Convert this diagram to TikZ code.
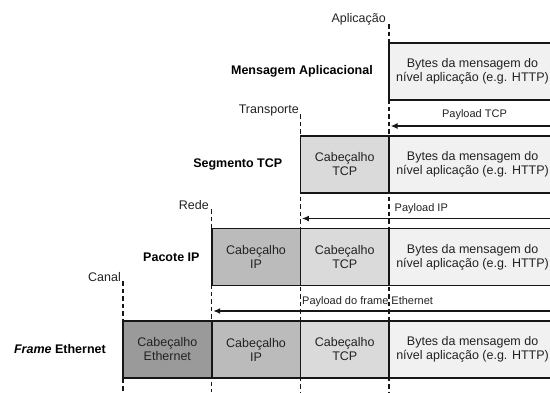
\documentclass[tikz,border=0pt]{standalone}
\usepackage{fontspec}
\setmainfont{Liberation Sans}
\usetikzlibrary{arrows.meta, positioning, calc}
\definecolor{pkEth}{HTML}{9A9A9A}
\definecolor{pkIp}{HTML}{BBBBBB}
\definecolor{pkTcp}{HTML}{DADADA}
\definecolor{pkApp}{HTML}{F1F1F1}
\definecolor{pkText}{HTML}{222222}
\definecolor{pkLine}{HTML}{161616}

\begin{document}
\begin{tikzpicture}[x=1pt, y=-1pt, node distance=0pt,
  every node/.style={font=\fontsize{12.5}{14}\selectfont, text=pkText},
  field/.style={draw=pkLine, line width=1.8pt, outer sep=0pt, inner sep=0pt,
                minimum height=57pt, align=center},
  hdr/.style={field, minimum width=88.7pt},
  body/.style={field, fill=pkApp, minimum width=167pt},
  layer/.style={anchor=east, inner sep=0pt},
  tag/.style={anchor=east, inner sep=0pt, text=black,
              font=\bfseries\fontsize{12.5}{14}\selectfont},
  guide/.style={pkLine, line width=1.2pt, dash pattern=on 4.5pt off 3pt},
  payload/.style={inner sep=0pt, font=\fontsize{11}{12}\selectfont},
  carry/.style={-{Latex[length=7pt, width=6pt]}, pkLine, line width=1.5pt}]
        \useasboundingbox (0,0) rectangle (550,392);
        \clip (0,0) rectangle (550,392);
        % layer names and their guides
        \node[layer] (lApp) at (386,19) {Aplicação};
        \node[layer] (lTra) at (299,110) {Transporte};
        \node[layer] (lRed) at (209,205) {Rede};
        \node[layer] (lCan) at (121,277) {Canal};
        \coordinate (gAppT) at (389,24);  \coordinate (gAppB) at (389,392);
        \coordinate (gTraT) at (300.4,114); \coordinate (gTraB) at (300.4,392);
        \coordinate (gRedT) at (211.7,209); \coordinate (gRedB) at (211.7,392);
        \coordinate (gCanT) at (123,281); \coordinate (gCanB) at (123,392);
        \draw[guide] (gAppT) -- (gAppB);
        \draw[guide] (gTraT) -- (gTraB);
        \draw[guide] (gRedT) -- (gRedB);
        \draw[guide] (gCanT) -- (gCanB);
        % rows
        \node[body, anchor=west] (msgApp) at (389,71.5) {Bytes da mensagem do\\nível aplicação (e.g. HTTP)};
        \node[hdr, fill=pkTcp, anchor=west] (segTcp) at (300.4,164.5) {Cabeçalho\\TCP};
        \node[body, right=of segTcp] (segApp) {Bytes da mensagem do\\nível aplicação (e.g. HTTP)};
        \node[hdr, fill=pkIp, anchor=west] (pktIp) at (211.7,257) {Cabeçalho\\IP};
        \node[hdr, fill=pkTcp, right=of pktIp] (pktTcp) {Cabeçalho\\TCP};
        \node[body, right=of pktTcp] (pktApp) {Bytes da mensagem do\\nível aplicação (e.g. HTTP)};
        \node[hdr, fill=pkEth, anchor=west] (ethEth) at (123,349.5) {Cabeçalho\\Ethernet};
        \node[hdr, fill=pkIp, right=of ethEth] (ethIp) {Cabeçalho\\IP};
        \node[hdr, fill=pkTcp, right=of ethIp] (ethTcp) {Cabeçalho\\TCP};
        \node[body, right=of ethTcp] (ethApp) {Bytes da mensagem do\\nível aplicação (e.g. HTTP)};
        % row names
        \node[tag, left=16pt of msgApp] (tMsg) {Mensagem Aplicacional};
        \node[tag, left=18pt of segTcp] (tSeg) {Segmento TCP};
        \node[tag, left=12pt of pktIp] (tPkt) {Pacote IP};
        \node[tag, left=17pt of ethEth] (tEth) {{\itshape Frame} Ethernet};
        % payloads
        \draw[carry] ([yshift=10pt]segApp.north east) -- ([yshift=10pt, xshift=1.5pt]segApp.north west);
        \draw[carry] ([yshift=10pt]pktApp.north east) -- ([yshift=10pt, xshift=1.5pt]pktTcp.north west);
        \draw[carry] ([yshift=10pt]ethApp.north east) -- ([yshift=10pt, xshift=1.5pt]ethIp.north west);
        \node[payload] (plTcp) at (474.5,115) {Payload TCP};
        \node[payload, anchor=west] (plIp) at (394.5,209) {Payload IP};
        \node[payload, anchor=west] (plEth) at (302,302) {Payload do frame Ethernet};
      \end{tikzpicture}
\end{document}
